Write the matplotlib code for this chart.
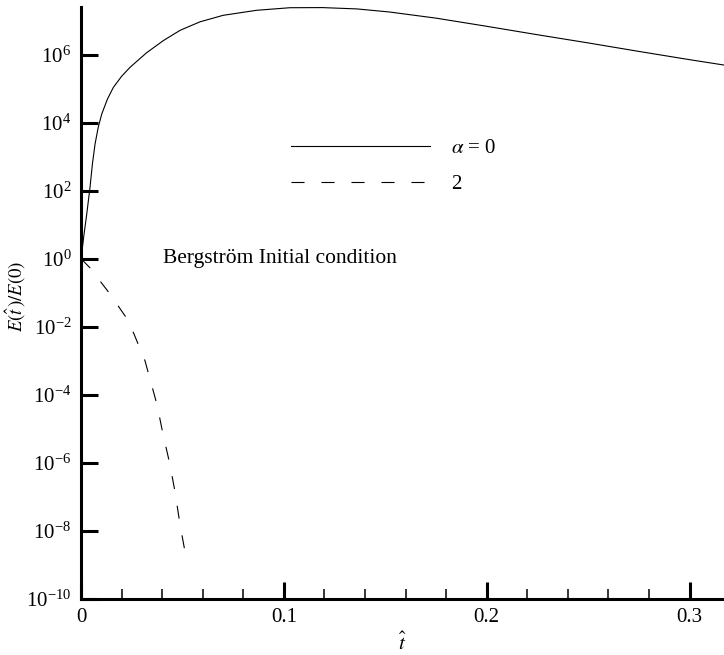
import numpy as np
import matplotlib
matplotlib.use('Agg')
import matplotlib.pyplot as plt
from matplotlib.ticker import FixedLocator, MultipleLocator, LogFormatterSciNotation

plt.rcParams['font.family'] = ['Liberation Serif', 'DejaVu Serif']
plt.rcParams['mathtext.fontset'] = 'stix'
plt.rcParams['lines.scale_dashes'] = False

# energy growth, alpha = 0
t_a0 = [0.0, 0.0014, 0.0028, 0.0044, 0.0056, 0.0069, 0.0085, 0.0102, 0.013,
        0.0159, 0.02, 0.0241, 0.0323, 0.0406, 0.0488, 0.0586, 0.070, 0.0865,
        0.103, 0.119, 0.136, 0.152, 0.175, 0.2, 0.225, 0.25, 0.275, 0.3, 0.317]
e_a0 = [1.0, 5.0, 20.9, 126.0, 630.0, 2.4e3, 7.6e3, 1.82e4, 5.0e4,
        1.10e5, 2.34e5, 4.27e5, 1.15e6, 2.63e6, 5.25e6, 9.33e6, 1.45e7, 2.04e7,
        2.43e7, 2.45e7, 2.24e7, 1.82e7, 1.20e7, 6.9e6, 3.9e6, 2.24e6, 1.26e6,
        7.2e5, 5.0e5]

# energy decay, alpha = 2
t_a2 = [0.0, 0.0044, 0.0143, 0.0227, 0.026, 0.0315, 0.0374, 0.0404, 0.0438,
        0.0463, 0.0488, 0.0517]
e_a2 = [1.0, 0.54, 0.091, 0.017, 6.3e-3, 1.0e-3, 5.2e-5, 6.9e-6, 8.9e-7,
        1.4e-7, 1.5e-8, 1.7e-9]

y_ticks = [1e-10, 1e-8, 1e-6, 1e-4, 1e-2, 1e0, 1e2, 1e4, 1e6]
x_ticks = [0, 0.1, 0.2, 0.3]
x_labels = ['0', '0.1', '0.2', '0.3']

fig = plt.figure(figsize=(7.24, 6.55), dpi=100)
ax = fig.add_axes([0.112, 0.086, 0.888, 0.904])

ax.plot(t_a0, e_a0, color='black', lw=0.8, label=r'$\alpha$ = 0')
ax.plot(t_a2, e_a2, color='black', lw=0.8, dashes=(9.4, 12.2), label='2')

ax.set_yscale('log')
ax.set_xlim(0, 0.317)
ax.set_ylim(1e-10, 2.63e7)

ax.yaxis.set_major_locator(FixedLocator(y_ticks))
ax.yaxis.set_minor_locator(FixedLocator([]))
ax.yaxis.set_major_formatter(LogFormatterSciNotation())
ax.set_xticks(x_ticks)
ax.set_xticklabels(x_labels)
ax.xaxis.set_minor_locator(MultipleLocator(0.02))

for s in ['top', 'right']:
    ax.spines[s].set_visible(False)
for s in ['left', 'bottom']:
    ax.spines[s].set_linewidth(2.2)

ax.tick_params(which='major', direction='in', length=12, width=2.2,
               labelsize=15, pad=7)
ax.tick_params(which='minor', direction='in', length=7, width=1.1)

ax.set_xlabel(r'$\hat{t}$', fontsize=15, labelpad=4)
ax.set_ylabel(r'$E(\hat{t}\,)/E(0)$', fontsize=13.5)
ax.yaxis.set_label_coords(-0.082, 0.51)

ax.text(0.0404, 1.0, 'Bergström Initial condition', fontsize=15.5,
        ha='left', va='center')

ax.legend(loc='upper left', bbox_to_anchor=(0.31, 0.795), frameon=False,
          fontsize=15, handlelength=6.7, handletextpad=1.0,
          labelspacing=0.8, borderpad=0)

fig.savefig('out.png', dpi=100)
